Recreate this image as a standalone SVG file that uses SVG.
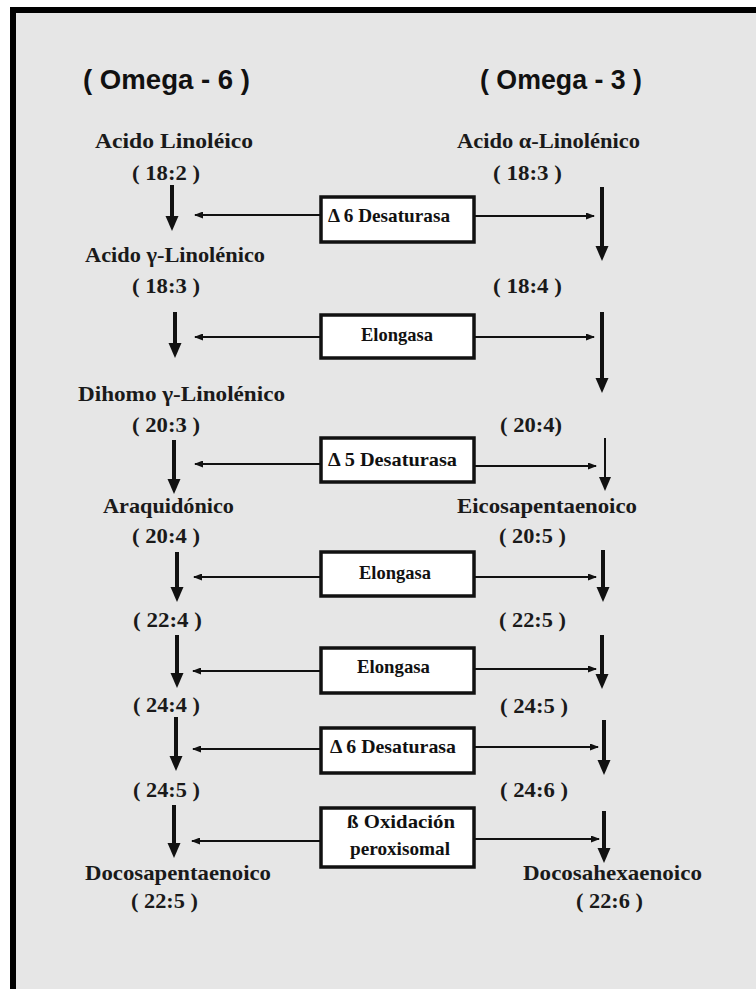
<svg xmlns="http://www.w3.org/2000/svg" width="756" height="989" viewBox="0 0 756 989">
<style>
.hdr{font-family:"Liberation Sans",Arial,sans-serif;font-weight:bold;font-size:27px;fill:#111}
.lbl{font-family:"Liberation Serif","Times New Roman",serif;font-weight:bold;font-size:21px;fill:#1a1a1a}
.btx{font-family:"Liberation Serif","Times New Roman",serif;font-weight:bold;font-size:19px;fill:#111}
.box{fill:#fff;stroke:#111;stroke-width:3.5}
.thick{stroke:#111;stroke-width:4;fill:none}
.thin{stroke:#111;stroke-width:2;fill:none}
.head{fill:#111}
</style>
<defs>
<marker id="hs" viewBox="0 0 9 7" refX="8" refY="3.5" markerWidth="9" markerHeight="7" markerUnits="userSpaceOnUse" orient="auto">
<path d="M0,0 L9,3.5 L0,7 z" fill="#111"/>
</marker>
</defs>
<rect x="0" y="0" width="756" height="989" fill="#fff"/>
<rect x="13" y="10" width="760" height="1000" fill="#e6e6e6" stroke="#000" stroke-width="6"/>

<g id="headers">
<text class="hdr" x="83" y="89" textLength="167" lengthAdjust="spacingAndGlyphs">( Omega - 6 )</text>
<text class="hdr" x="480" y="89" textLength="162" lengthAdjust="spacingAndGlyphs">( Omega - 3 )</text>
</g>

<g id="omega6">
<g id="n-linoleico"><text class="lbl" x="95" y="148" textLength="158" lengthAdjust="spacingAndGlyphs">Acido Linoléico</text><text class="lbl" x="132" y="180" textLength="68" lengthAdjust="spacingAndGlyphs">( 18:2 )</text></g>
<g id="n-gamma"><text class="lbl" x="85" y="262" textLength="180" lengthAdjust="spacingAndGlyphs">Acido γ-Linolénico</text><text class="lbl" x="132" y="293" textLength="68" lengthAdjust="spacingAndGlyphs">( 18:3 )</text></g>
<g id="n-dihomo"><text class="lbl" x="78" y="401" textLength="207" lengthAdjust="spacingAndGlyphs">Dihomo γ-Linolénico</text><text class="lbl" x="132" y="432" textLength="68" lengthAdjust="spacingAndGlyphs">( 20:3 )</text></g>
<g id="n-araq"><text class="lbl" x="103" y="513" textLength="131" lengthAdjust="spacingAndGlyphs">Araquidónico</text><text class="lbl" x="132" y="543" textLength="68" lengthAdjust="spacingAndGlyphs">( 20:4 )</text></g>
<g id="n-224"><text class="lbl" x="133" y="627" textLength="69" lengthAdjust="spacingAndGlyphs">( 22:4 )</text></g>
<g id="n-244"><text class="lbl" x="133" y="712" textLength="67" lengthAdjust="spacingAndGlyphs">( 24:4 )</text></g>
<g id="n-245"><text class="lbl" x="133" y="797" textLength="67" lengthAdjust="spacingAndGlyphs">( 24:5 )</text></g>
<g id="n-dpa"><text class="lbl" x="85" y="880" textLength="186" lengthAdjust="spacingAndGlyphs">Docosapentaenoico</text><text class="lbl" x="131" y="908" textLength="67" lengthAdjust="spacingAndGlyphs">( 22:5 )</text></g>
</g>

<g id="omega3">
<g id="n-alfa"><text class="lbl" x="457" y="148" textLength="183" lengthAdjust="spacingAndGlyphs">Acido α-Linolénico</text><text class="lbl" x="493" y="180" textLength="69" lengthAdjust="spacingAndGlyphs">( 18:3 )</text></g>
<g id="n-184"><text class="lbl" x="493" y="293" textLength="69" lengthAdjust="spacingAndGlyphs">( 18:4 )</text></g>
<g id="n-204"><text class="lbl" x="500" y="432" textLength="62" lengthAdjust="spacingAndGlyphs">( 20:4)</text></g>
<g id="n-epa"><text class="lbl" x="457" y="513" textLength="180" lengthAdjust="spacingAndGlyphs">Eicosapentaenoico</text><text class="lbl" x="499" y="543" textLength="67" lengthAdjust="spacingAndGlyphs">( 20:5 )</text></g>
<g id="n-225"><text class="lbl" x="499" y="627" textLength="67" lengthAdjust="spacingAndGlyphs">( 22:5 )</text></g>
<g id="n-245r"><text class="lbl" x="500" y="713" textLength="68" lengthAdjust="spacingAndGlyphs">( 24:5 )</text></g>
<g id="n-246"><text class="lbl" x="500" y="797" textLength="68" lengthAdjust="spacingAndGlyphs">( 24:6 )</text></g>
<g id="n-dha"><text class="lbl" x="523" y="880" textLength="179" lengthAdjust="spacingAndGlyphs">Docosahexaenoico</text><text class="lbl" x="576" y="908" textLength="67" lengthAdjust="spacingAndGlyphs">( 22:6 )</text></g>
</g>

<g id="enzymes">
<g id="e1"><rect class="box" x="321" y="197" width="153" height="45"/><text class="btx" x="328" y="222" textLength="122" lengthAdjust="spacingAndGlyphs">Δ 6 Desaturasa</text></g>
<g id="e2"><rect class="box" x="321" y="315" width="153" height="43"/><text class="btx" x="361" y="341" textLength="72" lengthAdjust="spacingAndGlyphs">Elongasa</text></g>
<g id="e3"><rect class="box" x="321" y="438" width="153" height="44"/><text class="btx" x="328" y="466" textLength="129" lengthAdjust="spacingAndGlyphs">Δ 5 Desaturasa</text></g>
<g id="e4"><rect class="box" x="321" y="552" width="153" height="44"/><text class="btx" x="359" y="579" textLength="72" lengthAdjust="spacingAndGlyphs">Elongasa</text></g>
<g id="e5"><rect class="box" x="321" y="648" width="153" height="45"/><text class="btx" x="357" y="673" textLength="73" lengthAdjust="spacingAndGlyphs">Elongasa</text></g>
<g id="e6"><rect class="box" x="321" y="728" width="153" height="45"/><text class="btx" x="330" y="753" textLength="126" lengthAdjust="spacingAndGlyphs">Δ 6 Desaturasa</text></g>
<g id="e7"><rect class="box" x="321" y="808" width="153" height="59"/><text class="btx" x="347" y="828" textLength="108" lengthAdjust="spacingAndGlyphs">ß Oxidación</text><text class="btx" x="350" y="855" textLength="100" lengthAdjust="spacingAndGlyphs">peroxisomal</text></g>
</g>

<g id="connectors">
<!-- left vertical thick arrows -->
<line class="thick" x1="172" y1="185" x2="172" y2="218"/><path class="head" d="M165.5,216 L178.5,216 L172,231 z"/>
<line class="thick" x1="175" y1="312" x2="175" y2="345"/><path class="head" d="M168.5,343 L181.5,343 L175,358 z"/>
<line class="thick" x1="174" y1="440" x2="174" y2="481"/><path class="head" d="M167.5,479 L180.5,479 L174,494 z"/>
<line class="thick" x1="177" y1="552" x2="177" y2="589"/><path class="head" d="M170.5,587 L183.5,587 L177,602 z"/>
<line class="thick" x1="177" y1="635" x2="177" y2="675"/><path class="head" d="M170.5,673 L183.5,673 L177,688 z"/>
<line class="thick" x1="176" y1="717" x2="176" y2="758"/><path class="head" d="M169.5,756 L182.5,756 L176,771 z"/>
<line class="thick" x1="174" y1="805" x2="174" y2="845"/><path class="head" d="M167.5,843 L180.5,843 L174,858 z"/>
<!-- right vertical arrows -->
<line class="thick" x1="602" y1="187" x2="602" y2="248"/><path class="head" d="M595.5,246 L608.5,246 L602,261 z"/>
<line class="thick" x1="602" y1="312" x2="602" y2="380"/><path class="head" d="M595.5,378 L608.5,378 L602,393 z"/>
<line class="thin" x1="605" y1="438" x2="605" y2="480"/><path class="head" d="M599,477 L611,477 L605,491 z"/>
<line class="thick" x1="603" y1="550" x2="603" y2="589"/><path class="head" d="M596.5,587 L609.5,587 L603,602 z"/>
<line class="thick" x1="602" y1="635" x2="602" y2="676"/><path class="head" d="M595.5,674 L608.5,674 L602,689 z"/>
<line class="thick" x1="604" y1="720" x2="604" y2="762"/><path class="head" d="M597.5,760 L610.5,760 L604,775 z"/>
<line class="thick" x1="604" y1="811" x2="604" y2="850"/><path class="head" d="M597.5,848 L610.5,848 L604,863 z"/>
<!-- horizontal enzyme arrows -->
<line class="thin" x1="321" y1="215" x2="195" y2="215" marker-end="url(#hs)"/>
<line class="thin" x1="474" y1="216" x2="594" y2="216" marker-end="url(#hs)"/>
<line class="thin" x1="321" y1="337" x2="195" y2="337" marker-end="url(#hs)"/>
<line class="thin" x1="474" y1="337" x2="594" y2="337" marker-end="url(#hs)"/>
<line class="thin" x1="321" y1="464" x2="195" y2="464" marker-end="url(#hs)"/>
<line class="thin" x1="474" y1="466" x2="596" y2="466" marker-end="url(#hs)"/>
<line class="thin" x1="321" y1="577" x2="194" y2="577" marker-end="url(#hs)"/>
<line class="thin" x1="474" y1="577" x2="596" y2="577" marker-end="url(#hs)"/>
<line class="thin" x1="321" y1="671" x2="193" y2="671" marker-end="url(#hs)"/>
<line class="thin" x1="474" y1="669" x2="596" y2="669" marker-end="url(#hs)"/>
<line class="thin" x1="321" y1="749" x2="193" y2="749" marker-end="url(#hs)"/>
<line class="thin" x1="474" y1="747" x2="598" y2="747" marker-end="url(#hs)"/>
<line class="thin" x1="321" y1="841" x2="192" y2="841" marker-end="url(#hs)"/>
<line class="thin" x1="474" y1="839" x2="599" y2="839" marker-end="url(#hs)"/>
</g>
</svg>
